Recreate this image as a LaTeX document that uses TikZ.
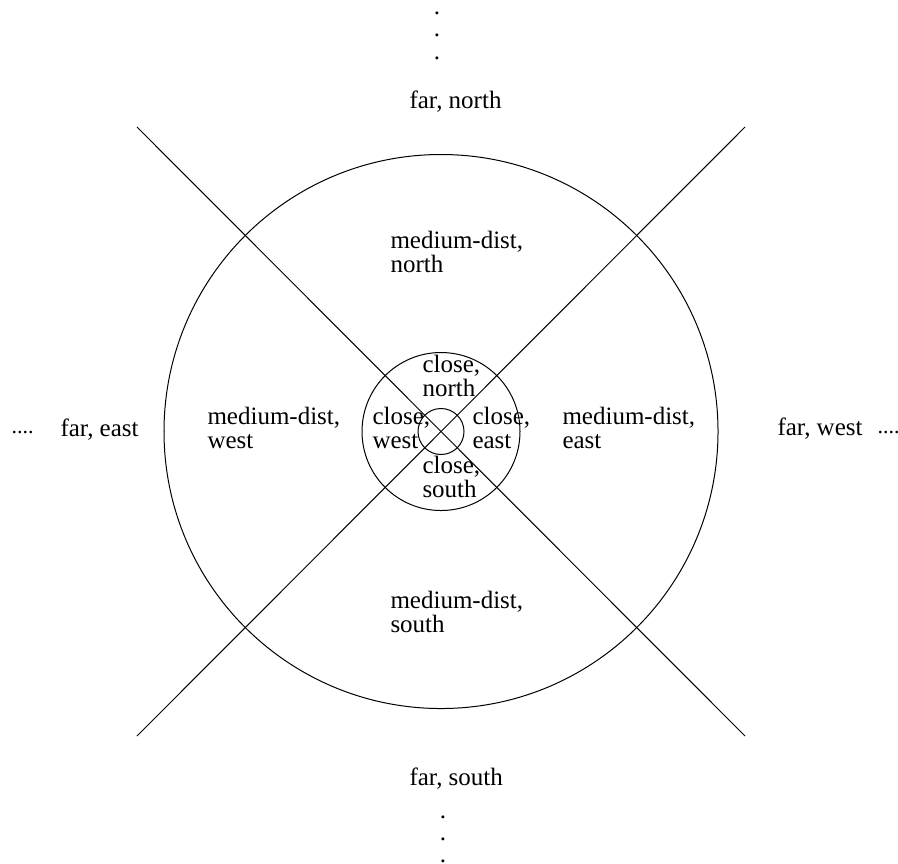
\documentclass[tikz,border=0pt]{standalone}
\usepackage{fontspec}
\setmainfont{Liberation Serif}
\begin{document}
\begin{tikzpicture}[
  x=0.4pt, y=-0.4pt,
  lbl/.style={anchor=base west, inner sep=0pt, align=left, font=\fontsize{10}{9.6}\selectfont},
  vdot/.style={inner sep=0pt, anchor=base, font=\fontsize{10}{10}\selectfont},
  hdot/.style={inner sep=0pt, anchor=base west, font=\fontsize{8.8}{8.8}\selectfont},
  ring/.style={draw, line width=0.4pt}
]
\useasboundingbox (0,0) rectangle (898,863);
\coordinate (c) at (441,431.5);
% diagonals
\coordinate (nw) at (137,127);
\coordinate (ne) at (745,127);
\coordinate (sw) at (137,736);
\coordinate (se) at (745,736);
\draw[ring] (nw) -- (se);
\draw[ring] (ne) -- (sw);
% rings
\draw[ring] (c) circle[radius=110.8pt];
\draw[ring] (c) circle[radius=31.6pt];
\draw[ring] (c) circle[radius=9.2pt];
% far region
\node[lbl] (farN) at (409,108) {far, north};
\node[lbl] (farS) at (409,785) {far, south};
\node[lbl] (farE) at (60,436) {far, east};
\node[lbl] (farW) at (777,435) {far, west};
% medium region (base = last line)
\node[lbl] (medN) at (390,272) {medium-dist,\\north};
\node[lbl] (medW) at (207,448) {medium-dist,\\west};
\node[lbl] (medE) at (562,448) {medium-dist,\\east};
\node[lbl] (medS) at (390,632) {medium-dist,\\south};
% close region
\node[lbl] (closeN) at (422,396) {close,\\north};
\node[lbl] (closeW) at (372,448) {close,\\west};
\node[lbl] (closeE) at (472,448) {close,\\east};
\node[lbl] (closeS) at (422,497) {close,\\south};
% continuation dots
\foreach \y in {14,36,59} \node[vdot] at (437,\y) {.};
\foreach \y in {818,840,862} \node[vdot] at (443,\y) {.};
\node[hdot] (dotsE) at (11,433) {....};
\node[hdot] (dotsW) at (877,433) {....};
\end{tikzpicture}
\end{document}
